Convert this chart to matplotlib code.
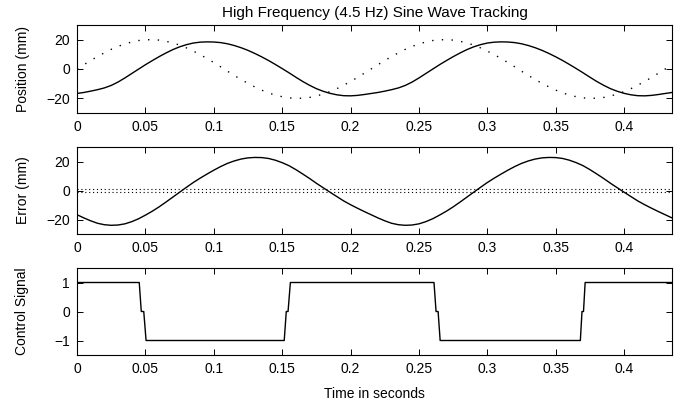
import matplotlib
matplotlib.use("Agg")
import matplotlib.pyplot as plt

plt.rcParams['font.family'] = ['Liberation Sans', 'DejaVu Sans']

# time samples (s)
time_s = [round(0.005 * k, 3) for k in range(88)]

# reference (desired) position, mm
ref_pos = [0.0, 2.9, 5.8, 8.5, 11.0, 13.4, 15.4, 17.1, 18.4, 19.4,
           19.9, 20.0, 19.7, 18.9, 17.8, 16.3, 14.4, 12.2, 9.8, 7.2,
           4.4, 1.5, -1.5, -4.4, -7.2, -9.8, -12.2, -14.4, -16.3, -17.8,
           -18.9, -19.7, -20.0, -19.9, -19.4, -18.4, -17.1, -15.4, -13.4, -11.0,
           -8.5, -5.8, -2.9,
           0.0, 2.9, 5.8, 8.5, 11.0, 13.4, 15.4, 17.1, 18.4, 19.4,
           19.9, 20.0, 19.7, 18.9, 17.8, 16.3, 14.4, 12.2, 9.8, 7.2,
           4.4, 1.5, -1.5, -4.4, -7.2, -9.8, -12.2, -14.4, -16.3, -17.8,
           -18.9, -19.7, -20.0, -19.9, -19.4, -18.4, -17.1, -15.4, -13.4, -11.0,
           -8.5, -5.8, -2.9, 0.0, 2.9]

# actual (measured) position, mm
act_pos = [-16.7, -16.0, -15.1, -14.1, -12.9, -11.2, -8.9, -6.1, -3.1, -0.1,
           2.9, 5.7, 8.4, 10.9, 13.2, 15.1, 16.6, 17.7, 18.3, 18.5,
           18.4, 18.0, 17.2, 16.0, 14.5, 12.7, 10.6, 8.3, 5.8, 3.1,
           0.3, -2.6, -5.6, -8.5, -11.1, -13.4, -15.2, -16.6, -17.6, -18.2,
           -18.3, -18.0, -17.4,
           -16.7, -16.0, -15.1, -14.1, -12.9, -11.2, -8.9, -6.1, -3.1, -0.1,
           2.9, 5.7, 8.4, 10.9, 13.2, 15.1, 16.6, 17.7, 18.3, 18.5,
           18.4, 18.0, 17.2, 16.0, 14.5, 12.7, 10.6, 8.3, 5.8, 3.1,
           0.3, -2.6, -5.6, -8.5, -11.1, -13.4, -15.2, -16.6, -17.6, -18.2,
           -18.3, -18.0, -17.4, -16.7, -16.0]

# tracking error, mm
err = [-16.7, -18.9, -20.9, -22.6, -23.6, -24.0, -23.8, -23.0, -21.5, -19.5,
       -17.0, -14.3, -11.3, -8.0, -4.6, -1.2, 2.2, 5.5, 8.5, 11.3,
       14.0, 16.5, 18.7, 20.4, 21.7, 22.5, 22.8, 22.7, 22.1, 20.9,
       19.2, 17.1, 14.4, 11.4, 8.3, 5.0, 1.9, -1.2, -4.2, -7.2,
       -9.8, -12.2, -14.5,
       -16.7, -18.9, -20.9, -22.6, -23.6, -24.0, -23.8, -23.0, -21.5, -19.5,
       -17.0, -14.3, -11.3, -8.0, -4.6, -1.2, 2.2, 5.5, 8.5, 11.3,
       14.0, 16.5, 18.7, 20.4, 21.7, 22.5, 22.8, 22.7, 22.1, 20.9,
       19.2, 17.1, 14.4, 11.4, 8.3, 5.0, 1.9, -1.2, -4.2, -7.2,
       -9.8, -12.2, -14.5, -16.7, -18.9]

# error tolerance band, mm
band = [1.0, -1.0]

# control signal breakpoints
ctrl_t = [0.0, 0.0455, 0.0470, 0.0488, 0.0505, 0.1515, 0.1530, 0.1543, 0.1560,
          0.2610, 0.2625, 0.2640, 0.2655, 0.3680, 0.3692, 0.3703, 0.3715, 0.435]
ctrl_v = [1, 1, 0, 0, -1, -1, 0, 0, 1, 1, 0, 0, -1, -1, 0, 0, 1, 1]

xticks = [0, 0.05, 0.1, 0.15, 0.2, 0.25, 0.3, 0.35, 0.4]
xticklabels = ['0', '0.05', '0.1', '0.15', '0.2', '0.25', '0.3', '0.35', '0.4']
XMAX = 0.435

W, H = 687, 407
fig = plt.figure(figsize=(W / 100, H / 100), dpi=100)

def box(top, bottom, left=77, right=672):
    return [left / W, (H - bottom) / H, (right - left) / W, (bottom - top) / H]

ax1 = fig.add_axes(box(25, 113))
ax2 = fig.add_axes(box(147, 234))
ax3 = fig.add_axes(box(268, 355))

def style(ax):
    ax.set_xlim(0, XMAX)
    ax.set_xticks(xticks)
    ax.set_xticklabels(xticklabels)
    ax.tick_params(direction='in', top=True, right=True, length=4, width=0.7,
                   labelsize=10, pad=5, colors='black')
    for s in ax.spines.values():
        s.set_linewidth(0.8)
        s.set_color('black')

ax1.plot(time_s, act_pos, color='black', lw=1.0)
ax1.plot(time_s, ref_pos, color='black', lw=1.0, linestyle=(0, (1, 6)))
ax1.set_ylim(-30, 30)
ax1.set_yticks([-20, 0, 20])
ax1.set_yticklabels(['\u221220', '0', '20'])
ax1.set_ylabel('Position (mm)', fontsize=10, labelpad=12)
ax1.set_title('High Frequency (4.5 Hz) Sine Wave Tracking', fontsize=11, pad=6)
style(ax1)

ax2.plot(time_s, err, color='black', lw=1.0)
for b in band:
    ax2.axhline(b, color='black', lw=0.8, linestyle=(0, (1, 2.5)))
ax2.set_ylim(-30, 30)
ax2.set_yticks([-20, 0, 20])
ax2.set_yticklabels(['\u221220', '0', '20'])
ax2.set_ylabel('Error (mm)', fontsize=10, labelpad=12)
style(ax2)

ax3.plot(ctrl_t, ctrl_v, color='black', lw=1.0)
ax3.set_ylim(-1.5, 1.5)
ax3.set_yticks([-1, 0, 1])
ax3.set_yticklabels(['\u22121', '0', '1'])
ax3.set_ylabel('Control Signal', fontsize=10, labelpad=18)
ax3.set_xlabel('Time in seconds', fontsize=10, labelpad=8)
style(ax3)

fig.savefig('out.png', dpi=100)
